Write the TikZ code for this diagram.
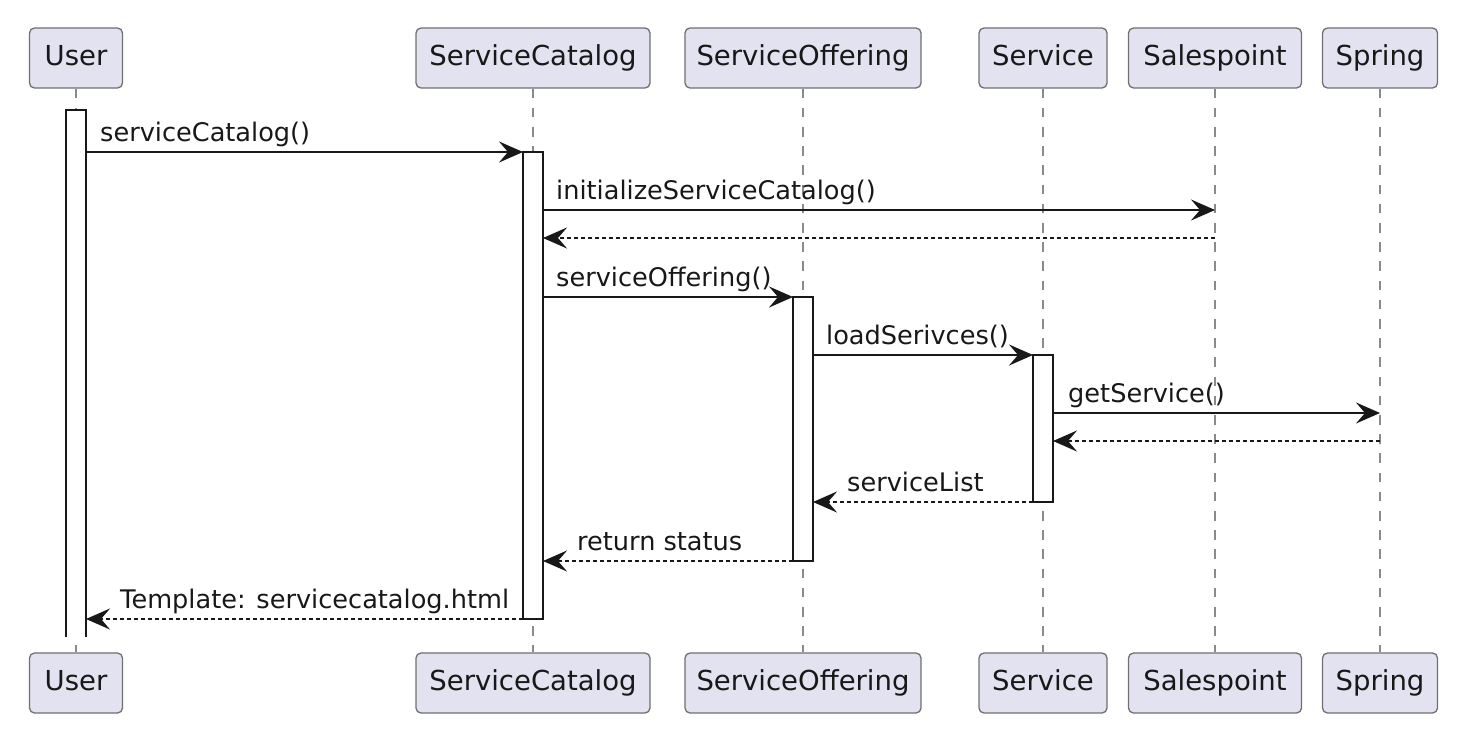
\documentclass[tikz,border=0pt]{standalone}
\usepackage{fontspec}
\setmainfont{DejaVu Sans}
\usetikzlibrary{arrows.meta,calc}
\definecolor{partfill}{HTML}{E2E2F0}
\definecolor{partdraw}{HTML}{707070}
\definecolor{ink}{HTML}{181818}
\definecolor{lifegray}{HTML}{8A8A8A}
\begin{document}
\begin{tikzpicture}[x=1pt,y=-1pt,
  part/.style={draw=partdraw, line width=1.3pt, fill=partfill, rounded corners=5pt,
    minimum height=60pt, inner sep=0pt, text height=20pt, text depth=5.5pt,
    font=\fontsize{27.5}{33}\selectfont, text=ink},
  life/.style={draw=lifegray, line width=1.1pt, dash pattern=on 9.6pt off 9.6pt},
  actbar/.style={draw=ink, line width=2pt, fill=white},
  msg/.style={draw=ink, line width=2pt, -{Stealth[length=24pt,width=21pt,inset=9pt]}},
  ret/.style={msg, dash pattern=on 4pt off 3pt},
  lbl/.style={font=\fontsize{25.6}{30}\selectfont, text=ink, inner sep=0pt},
]
\useasboundingbox (0,0) rectangle (1474,733);
\fill[white] (0,0) rectangle (1474,733);

% participants (top)
\node[part, minimum width=93pt]  (ut)  at (76,58)   {User};
\node[part, minimum width=234pt] (sct) at (533,58)  {ServiceCatalog};
\node[part, minimum width=236pt] (sot) at (803,58)  {ServiceOffering};
\node[part, minimum width=128pt] (svt) at (1043,58) {Service};
\node[part, minimum width=173pt] (spt) at (1215,58) {Salespoint};
\node[part, minimum width=115pt] (sgt) at (1380,58) {Spring};
% participants (bottom)
\node[part, minimum width=93pt]  (ub)  at (76,683)   {User};
\node[part, minimum width=234pt] (scb) at (533,683)  {ServiceCatalog};
\node[part, minimum width=236pt] (sob) at (803,683)  {ServiceOffering};
\node[part, minimum width=128pt] (svb) at (1043,683) {Service};
\node[part, minimum width=173pt] (spb) at (1215,683) {Salespoint};
\node[part, minimum width=115pt] (sgb) at (1380,683) {Spring};

% lifelines
\draw[life] (ut.south)  -- (ub.north);
\draw[life] (sct.south) -- (scb.north);
\draw[life] (sot.south) -- (sob.north);
\draw[life] (svt.south) -- (svb.north);
\draw[life] (spt.south) -- (spb.north);
\draw[life] (sgt.south) -- (sgb.north);

% activation bars
\fill[white] (66,110) rectangle (86,637);
\draw[ink, line width=2pt] (66,637) -- (66,110) -- (86,110) -- (86,637);
\draw[actbar] (523,152) rectangle (543,619);
\draw[actbar] (793,297) rectangle (813,561);
\draw[actbar] (1033,355) rectangle (1053,502);

% message end points
\coordinate (uR1)  at (86,152);   \coordinate (scL1) at (523,152);
\coordinate (scR2) at (543,210);  \coordinate (sp2)  at (1215,210);
\coordinate (sp3)  at (1215,238); \coordinate (scR3) at (543,238);
\coordinate (scR4) at (543,297);  \coordinate (soL4) at (793,297);
\coordinate (soR5) at (813,355);  \coordinate (svL5) at (1033,355);
\coordinate (svR6) at (1053,413); \coordinate (sg6)  at (1380,413);
\coordinate (sg7)  at (1380,441); \coordinate (svR7) at (1053,441);
\coordinate (svL8) at (1033,502); \coordinate (soR8) at (813,502);
\coordinate (soL9) at (793,561);  \coordinate (scR9) at (543,561);
\coordinate (scL10) at (523,619); \coordinate (uR10) at (86,619);

% messages
\draw[msg] (uR1) -- (scL1);
\node[lbl, anchor=base west] (l1) at ($(uR1)+(14,-11)$) {serviceCatalog()};
\draw[msg] (scR2) -- (sp2);
\node[lbl, anchor=base west] (l2) at ($(scR2)+(13,-11)$) {initializeServiceCatalog()};
\draw[ret] (sp3) -- (scR3);
\draw[msg] (scR4) -- (soL4);
\node[lbl, anchor=base west] (l4) at ($(scR4)+(13,-11)$) {serviceOffering()};
\draw[msg] (soR5) -- (svL5);
\node[lbl, anchor=base west] (l5) at ($(soR5)+(13,-11)$) {loadSerivces()};
\draw[msg] (svR6) -- (sg6);
\node[lbl, anchor=base west] (l6) at ($(svR6)+(15,-11)$) {getService()};
\draw[ret] (sg7) -- (svR7);
\draw[ret] (svL8) -- (soR8);
\node[lbl, anchor=base west] (l8) at ($(soR8)+(34,-11)$) {serviceList};
\draw[ret] (soL9) -- (scR9);
\node[lbl, anchor=base west] (l9) at ($(scR9)+(34,-11)$) {return status};
\draw[ret] (scL10) -- (uR10);
\node[lbl, anchor=base west] (l10) at ($(uR10)+(34,-11)$) {Template: servicecatalog.html};
\end{tikzpicture}
\end{document}
